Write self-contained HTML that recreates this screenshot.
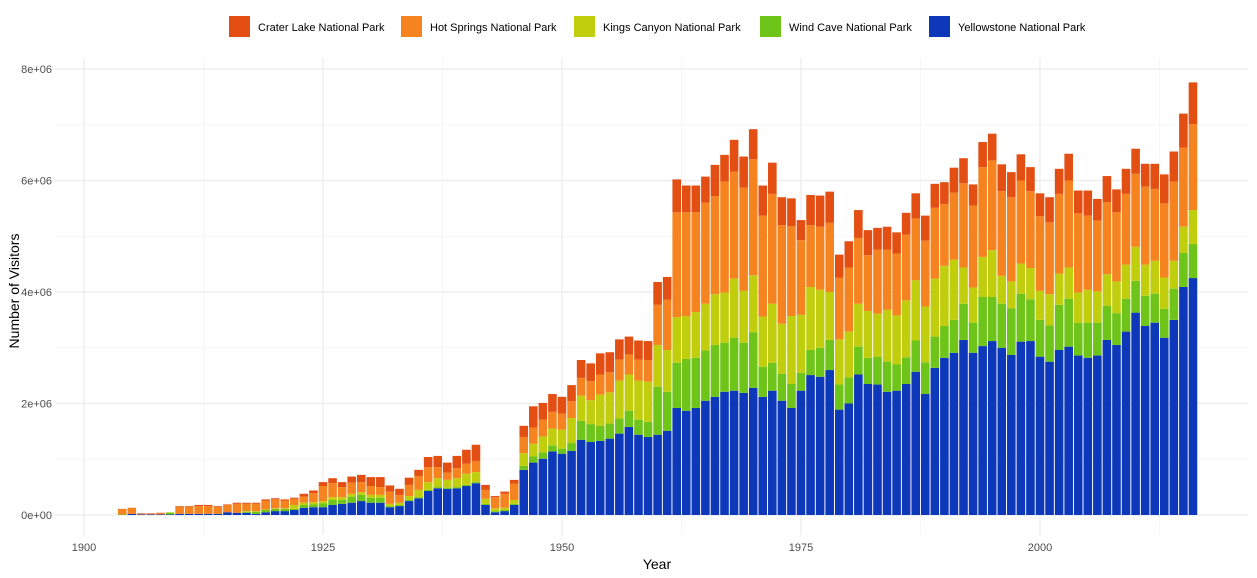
<!DOCTYPE html>
<html><head><meta charset="utf-8"><style>
body{margin:0;background:#fff;font-family:"Liberation Sans",Arial,sans-serif;}
svg{display:block}
</style></head><body>
<svg id="chart" width="1257" height="578" xmlns="http://www.w3.org/2000/svg"></svg>
<script>
const years = [];
for (let y = 1904; y <= 2016; y++) years.push(y);
const seriesNames = ["Yellowstone National Park","Wind Cave National Park","Kings Canyon National Park","Hot Springs National Park","Crater Lake National Park"];
// values in millions of visitors, 1904..2016
const yellowstone = [0,.02,.01,.01,.01,.01,.02,.02,.02,.02,.02,.05,.04,.04,.02,.05,.07,.07,.09,.13,.14,.14,.18,.20,.22,.25,.22,.22,.14,.16,.25,.30,.43,.48,.47,.48,.52,.57,.18,.05,.07,.18,
.81,.94,1.01,1.14,1.10,1.15,1.35,1.31,1.33,1.37,1.46,1.58,1.44,1.40,1.44,1.51,1.92,1.87,1.92,2.05,2.12,2.21,2.23,2.19,2.28,2.12,2.23,2.05,1.92,2.23,2.51,2.48,2.60,1.89,2.00,2.52,
2.35,2.34,2.21,2.23,2.35,2.57,2.17,2.64,2.82,2.91,3.14,2.91,3.03,3.12,3.00,2.87,3.11,3.12,2.84,2.75,2.96,3.02,2.86,2.82,2.86,3.14,3.05,3.29,3.63,3.39,3.45,3.18,3.50,4.09,4.25];
const windCave = [.01,0,0,0,0,.03,0,0,0,0,0,0,0,.02,.04,.04,.04,.04,.02,.05,.05,.07,.09,.07,.11,.11,.09,.09,.02,.02,.02,.02,.02,.02,.02,.02,.02,.02,.02,.02,.02,.02,
.07,.11,.11,.11,.09,.14,.34,.32,.27,.27,.27,.29,.27,.27,.86,.70,.81,.93,.90,.90,.93,.88,.95,.90,1.00,.54,.50,.48,.43,.32,.45,.52,.54,.45,.47,.50,
.47,.50,.54,.47,.48,.56,.57,.56,.57,.59,.65,.54,.88,.79,.79,.84,.86,.75,.66,.65,.81,.86,.59,.63,.59,.61,.57,.59,.57,.54,.52,.52,.56,.61,.61];
const kingsCanyon = [0,0,0,0,0,.01,0,0,0,0,0,0,0,.01,.01,.01,.01,.01,.07,.04,.04,.04,.05,.05,.05,.05,.05,.05,.04,.04,.07,.13,.14,.16,.14,.16,.20,.18,.09,.05,.04,.07,
.23,.23,.29,.30,.34,.45,.45,.43,.56,.56,.68,.65,.70,.72,.75,.75,.82,.77,.82,.84,.91,.90,1.06,.93,1.02,.90,1.06,.90,1.22,1.04,1.13,1.04,.86,.81,.82,.77,
.84,.77,.93,.88,1.02,1.08,1.00,1.04,1.08,1.08,.65,.63,.72,.84,.50,.48,.54,.56,.52,.56,.56,.56,.54,.59,.56,.57,.57,.61,.61,.56,.59,.56,.50,.47,.61];
const hotSprings = [.10,.11,.01,.01,.02,0,.13,.13,.14,.14,.13,.13,.16,.13,.13,.16,.16,.14,.11,.11,.16,.27,.25,.18,.20,.18,.16,.14,.22,.14,.20,.25,.27,.20,.13,.18,.18,.20,.16,.20,.25,.29,
.29,.29,.30,.30,.29,.30,.32,.34,.36,.36,.38,.36,.38,.39,.72,.90,1.88,1.86,1.79,1.81,1.76,1.99,1.92,1.85,2.08,1.81,1.97,1.77,1.61,1.34,1.11,1.13,1.24,1.11,1.15,1.18,
1.00,1.15,1.08,1.11,1.18,1.11,1.18,1.27,1.11,1.20,1.51,1.47,1.61,1.61,1.52,1.51,1.49,1.38,1.34,1.29,1.43,1.56,1.42,1.33,1.27,1.29,1.24,1.27,1.31,1.40,1.29,1.33,1.42,1.42,1.54];
const craterLake = [0,0,.01,.01,.01,0,.01,.01,.02,.02,.01,.01,.02,.02,.02,.02,.02,.02,.02,.05,.05,.07,.09,.09,.11,.13,.16,.18,.11,.11,.13,.11,.18,.20,.18,.22,.25,.29,.09,.02,.04,.07,
.20,.38,.30,.32,.30,.29,.32,.32,.38,.36,.36,.32,.34,.34,.41,.41,.59,.48,.48,.47,.56,.48,.57,.56,.54,.54,.56,.50,.50,.36,.54,.56,.56,.41,.47,.50,
.45,.39,.41,.38,.39,.45,.45,.43,.39,.45,.45,.38,.45,.48,.48,.45,.47,.43,.41,.45,.45,.48,.41,.45,.39,.47,.41,.45,.45,.41,.45,.52,.54,.61,.75];
const yTickValues = [0,2,4,6,8];
const yTickLabels = ["0e+00","2e+06","4e+06","6e+06","8e+06"];
const xTickValues = [1900,1925,1950,1975,2000];
const colors = ["#0E38BA","#6EC418","#C0CE0E","#F58420","#E34E13"];

const NS = "http://www.w3.org/2000/svg";
const svg = document.getElementById("chart");
const L = 55, R = 1248, T = 58, B = 535;
const xScale = y => 84 + (y - 1900) * 9.56;
const yScale = v => 515 - v * 55.75;
function mk(tag, attrs, parent) {
  const e = document.createElementNS(NS, tag);
  for (const k in attrs) e.setAttribute(k, attrs[k]);
  (parent || svg).appendChild(e);
  return e;
}
// grid
const grid = mk("g", {});


for (let v = 1; v <= 7; v += 2) mk("line", {x1:L,x2:R,y1:yScale(v),y2:yScale(v),stroke:"#f2f2f2","stroke-width":0.7}, grid);
for (let i = 0; i < xTickValues.length; i++) { const m = xTickValues[i] + 12.5; mk("line", {x1:xScale(m),x2:xScale(m),y1:T,y2:B,stroke:"#f2f2f2","stroke-width":0.7}, grid); }
mk("line", {x1:xScale(2037.5),x2:xScale(2037.5),y1:T,y2:B,stroke:"#f2f2f2","stroke-width":0.7}, grid);
yTickValues.forEach(v => mk("line", {x1:L,x2:R,y1:yScale(v),y2:yScale(v),stroke:"#ebebeb","stroke-width":1.2}, grid));
xTickValues.forEach(v => mk("line", {x1:xScale(v),x2:xScale(v),y1:T,y2:B,stroke:"#ebebeb","stroke-width":1.2}, grid));
// bars
const series = [yellowstone, windCave, kingsCanyon, hotSprings, craterLake];
const barsG = mk("g", {});


const bw = 8.6;
years.forEach((yr, i) => {
  let cum = 0;
  series.forEach((s, k) => {
    const v = s[i] || 0;
    if (v <= 0) return;
    const y0 = yScale(cum), y1 = yScale(cum + v);
    const r = mk("rect", {x: xScale(yr) - bw/2, y: y1, width: bw, height: Math.max(0, y0 - y1), fill: colors[k]}, barsG);
    
    
    cum += v;
  });
});
// y ticks
yTickValues.forEach((v, i) => {
  const t = mk("text", {x: 52, y: yScale(v) + 4, "text-anchor": "end", "font-size": 11, fill: "#4d4d4d"});
  t.textContent = yTickLabels[i];
  
  
});
xTickValues.forEach(v => {
  const t = mk("text", {x: xScale(v), y: 551, "text-anchor": "middle", "font-size": 11, fill: "#4d4d4d"});
  t.textContent = v;
  
  
});
const xt = mk("text", {x: 657, y: 569, "text-anchor": "middle", "font-size": 14, fill: "#000"});
xt.textContent = "Year";


const yt = mk("text", {x: 0, y: 0, "text-anchor": "middle", "font-size": 14, fill: "#000", transform: "translate(19,291) rotate(-90)"});
yt.textContent = "Number of Visitors";


// legend
const legNames = ["Crater Lake National Park","Hot Springs National Park","Kings Canyon National Park","Wind Cave National Park","Yellowstone National Park"];
const legColors = ["#E34E13","#F58420","#C0CE0E","#6EC418","#0E38BA"];
const legX = [229, 401, 574, 760, 929];
legNames.forEach((n, i) => {
  const g = mk("g", {});
  
  
  mk("rect", {x: legX[i], y: 16, width: 21, height: 21, fill: legColors[i]}, g);
  const t = mk("text", {x: legX[i] + 29, y: 31, "font-size": 11, fill: "#000"}, g);
  t.textContent = n;
});
</script>
</body></html>
